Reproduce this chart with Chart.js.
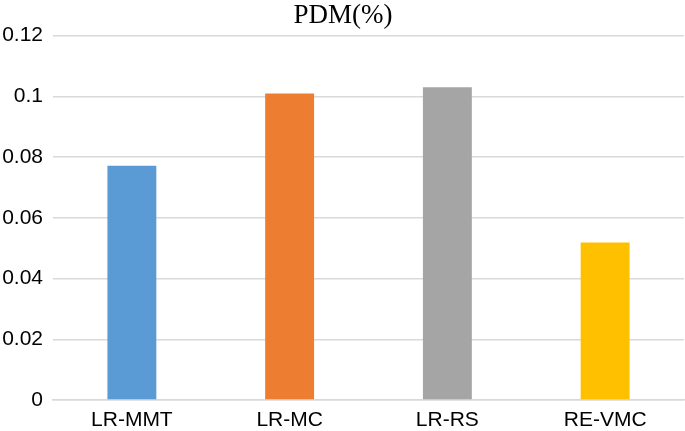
<!DOCTYPE html>
<html>
<head>
<meta charset="utf-8">
<script src="https://cdn.jsdelivr.net/npm/chart.js@4/dist/chart.umd.min.js"></script>
<style>
  html, body { margin: 0; padding: 0; background: #fff; }
  #wrap { width: 685px; height: 431px; }
</style>
</head>
<body>
<div id="wrap"><canvas id="graficoPdm"></canvas></div>
<script>
// datos
const metodos = ["LR-MMT", "LR-MC", "LR-RS", "RE-VMC"];
const valoresPdm = [0.0772, 0.101, 0.103, 0.0519];
const coloresBarras = ["#5B9BD5", "#ED7D31", "#A5A5A5", "#FFC000"];
const etiquetasEjeY = ["0", "0.02", "0.04", "0.06", "0.08", "0.1", "0.12"];
const tituloGrafico = "PDM(%)";

const etiquetaGrafico = document.getElementById("graficoPdm");

const config = {
  type: "bar",
  data: {
    labels: metodos,
    datasets: [
      {
        label: tituloGrafico,
        data: valoresPdm,
        backgroundColor: coloresBarras,
        borderWidth: 0,
        barPercentage: 0.31,
        categoryPercentage: 1,
      },
    ],
  },
  options: {
    responsive: true,
    maintainAspectRatio: false,
    animation: false,
    devicePixelRatio: 1,
    layout: { padding: { left: 2, right: 1, top: 0, bottom: 0 } },
    plugins: {
      legend: { display: false },
      tooltip: { enabled: false },
      title: {
        display: true,
        text: tituloGrafico,
        color: "#000",
        font: { family: "'Liberation Serif', 'DejaVu Serif', serif", size: 27, weight: "normal" },
        padding: { top: 0, bottom: 3.3 },
      },
    },
    scales: {
      x: {
        grid: { display: false, drawTicks: false },
        border: { display: true, color: "#D9D9D9", width: 1.5 },
        ticks: {
          color: "#000",
          padding: 8,
          font: { family: "'Liberation Sans', Arial, sans-serif", size: 21 },
        },
        afterFit: (escala) => { escala.height = 31; },
      },
      y: {
        min: 0,
        max: 0.12,
        border: { display: false },
        grid: { color: "#D9D9D9", lineWidth: 1.5, drawTicks: false },
        ticks: {
          stepSize: 0.02,
          color: "#000",
          padding: 10,
          font: { family: "'Liberation Sans', Arial, sans-serif", size: 21 },
          callback: (valor, i) => etiquetasEjeY[i],
        },
        afterFit: (escala) => { escala.width = 51; },
      },
    },
  },
};

new Chart(etiquetaGrafico, config);
</script>
</body>
</html>
